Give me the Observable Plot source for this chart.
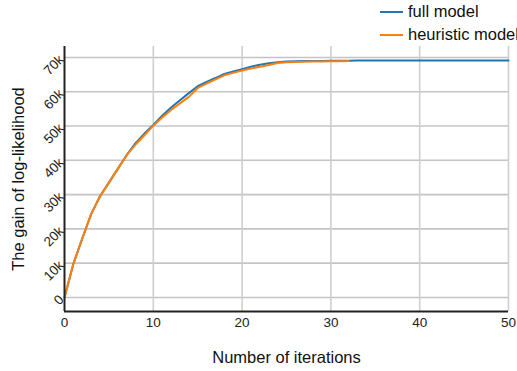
<!DOCTYPE html>
<html>
<head>
<meta charset="utf-8">
<script src="https://cdn.jsdelivr.net/npm/d3@7"></script>
<script src="https://cdn.jsdelivr.net/npm/@observablehq/plot@0.6"></script>
<style>
  html, body { margin: 0; padding: 0; background: #fff; }
  #wrap { position: relative; width: 517px; height: 371px; overflow: hidden; font-family: "Liberation Sans", Arial, sans-serif; }
  #legend { position: absolute; left: 380px; top: 0px; font-size: 16.5px; color: #111; white-space: nowrap; }
  .item { display: flex; align-items: center; height: 23px; }
  .sw { width: 23px; height: 2px; margin-right: 5px; }
</style>
</head>
<body>
<div id="wrap"><div id="legend"></div></div>
<script>
const seriesNames = ["full model", "heuristic model"];
const seriesColors = ["#1f77b4", "#ff7f0e"];
const fullModel = [0, 9.8, 17.2, 24.3, 29.5, 33.5, 37.5, 41.5, 45.0, 47.8, 50.3, 53.0, 55.4, 57.5, 59.6, 61.6, 62.9, 64.0, 65.2, 65.9, 66.6, 67.3, 67.9, 68.3, 68.6, 68.8, 68.9, 68.95, 69.0, 69.0, 69.05, 69.05, 69.05, 69.1, 69.1, 69.1, 69.1, 69.1, 69.1, 69.1, 69.1, 69.1, 69.1, 69.1, 69.1, 69.1, 69.1, 69.1, 69.1, 69.1, 69.1];
const heuristicModel = [0, 9.8, 17.2, 24.3, 29.5, 33.5, 37.5, 41.5, 44.6, 47.3, 50.1, 52.5, 54.7, 56.6, 58.5, 61.1, 62.4, 63.6, 64.8, 65.5, 66.2, 66.8, 67.3, 67.8, 68.4, 68.6, 68.7, 68.75, 68.8, 68.85, 68.9, 68.9, 68.95];
const xTicks = [0, 10, 20, 30, 40, 50];
const yTicks = [0, 10000, 20000, 30000, 40000, 50000, 60000, 70000];
const yTickLabels = ["0", "10k", "20k", "30k", "40k", "50k", "60k", "70k"];
const xTitle = "Number of iterations";
const yTitle = "The gain of log-likelihood";

const data = [
  ...fullModel.map((v, i) => ({iter: i, gain: v * 1000, series: seriesNames[0]})),
  ...heuristicModel.map((v, i) => ({iter: i, gain: v * 1000, series: seriesNames[1]}))
];
const yMin = -4100, yMax = 73200;

const plot = Plot.plot({
  width: 517,
  height: 371,
  marginLeft: 64,
  marginRight: 9,
  marginTop: 46,
  marginBottom: 60,
  style: {fontFamily: "Liberation Sans, Arial, sans-serif", fontSize: "13px", color: "#222", background: "#fff"},
  x: {domain: [0, 50], label: null},
  y: {domain: [yMin, yMax], label: null},
  color: {domain: seriesNames, range: seriesColors},
  marks: [
    Plot.ruleY(yTicks, {stroke: "#c4c4c4", strokeWidth: 1.6}),
    Plot.ruleX(xTicks.slice(1), {stroke: "#cfcfcf", strokeWidth: 1.6}),
    Plot.axisX(xTicks, {tickSize: 0, tickPadding: 6, fontSize: 13.5, label: null}),
    Plot.axisY(yTicks, {tickSize: 0, tickPadding: 3, tickRotate: -45, fontSize: 13.5, label: null,
      tickFormat: (d) => yTickLabels[yTicks.indexOf(d)]}),
    Plot.line(data, {x: "iter", y: "gain", stroke: "series", z: "series", strokeWidth: 2}),
    Plot.ruleX([0], {stroke: "#222", strokeWidth: 2}),
    Plot.ruleY([yMin], {stroke: "#222", strokeWidth: 2}),
    Plot.text([xTitle], {frameAnchor: "bottom", dy: 51, fontSize: 16.5, fill: "#111"}),
    Plot.text([yTitle], {frameAnchor: "left", textAnchor: "middle", dx: -46, rotate: -90, fontSize: 16.5, fill: "#111"})
  ]
});
const wrap = document.getElementById("wrap");
wrap.insertBefore(plot, wrap.firstChild);

const legend = document.getElementById("legend");
seriesNames.forEach((name, i) => {
  const item = document.createElement("div");
  item.className = "item";
  const sw = document.createElement("div");
  sw.className = "sw";
  sw.style.background = seriesColors[i];
  const t = document.createElement("span");
  t.textContent = name;
  item.appendChild(sw);
  item.appendChild(t);
  legend.appendChild(item);
});
</script>
</body>
</html>
